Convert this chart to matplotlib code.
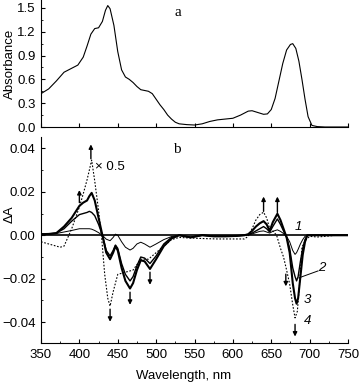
import matplotlib
matplotlib.use("Agg")
import matplotlib.pyplot as plt
from matplotlib.ticker import MultipleLocator, FuncFormatter

plt.rcParams['font.family'] = ['Liberation Sans', 'DejaVu Sans']
plt.rcParams['axes.unicode_minus'] = True

# ---------------- Panel a: absorbance spectrum ----------------
wl_abs = [350, 360, 370, 380, 390, 398, 405, 410, 415, 420, 425, 430, 434, 437, 440,
          445, 450, 455, 460, 465, 470, 475, 480, 485, 490, 495, 500, 505, 510, 515,
          520, 525, 530, 540, 550, 560, 570, 580, 590, 600, 610, 620, 625, 630, 640,
          645, 650, 655, 660, 665, 670, 675, 678, 682, 686, 690, 694, 698, 703, 710,
          720, 750]
absorbance = [0.42, 0.48, 0.58, 0.69, 0.74, 0.78, 0.88, 1.02, 1.17, 1.24, 1.25, 1.33,
              1.47, 1.53, 1.49, 1.28, 0.95, 0.72, 0.63, 0.60, 0.56, 0.51, 0.47, 0.46,
              0.45, 0.42, 0.35, 0.28, 0.22, 0.15, 0.10, 0.06, 0.04, 0.03, 0.025, 0.04,
              0.07, 0.09, 0.10, 0.11, 0.15, 0.20, 0.205, 0.19, 0.16, 0.165, 0.22, 0.36,
              0.58, 0.80, 0.97, 1.04, 1.05, 0.99, 0.83, 0.60, 0.35, 0.13, 0.02, 0.005,
              0.0, 0.0]

# ---------------- Panel b: difference spectra ----------------
wl_sol = [350, 360, 370, 380, 390, 400, 405, 410, 413, 416, 420, 425, 430, 435, 440,
          444, 447, 450, 455, 460, 466, 470, 475, 480, 485, 492, 500, 510, 520, 530,
          545, 560, 575, 590, 605, 615, 620, 625, 630, 635, 640, 644, 648, 652, 658,
          662, 666, 670, 674, 678, 681, 683, 685, 688, 691, 694, 697, 700, 710, 730, 750]
dA_1 = [0.0005, 0.0006, 0.0008, 0.0015, 0.0022, 0.003, 0.003, 0.003, 0.003, 0.0028,
        0.0022, 0.0012, 0.0, -0.0018, -0.0025, -0.001, 0.0005, 0.0, -0.003, -0.0055,
        -0.0068, -0.006, -0.004, -0.0032, -0.004, -0.0055, -0.004, -0.002, -0.0006, 0.0,
        -0.0008, 0.0002, -0.0004, -0.0004, -0.0002, 0.0, 0.0002, 0.0006, 0.0012, 0.0018,
        0.002, 0.0015, 0.001, 0.0018, 0.0025, 0.0018, 0.0008, -0.0005, -0.003, -0.007,
        -0.0088, -0.008, -0.0065, -0.004, -0.002, -0.0005, 0.0, 0.0, 0.0, 0.0, 0.0]
dA_2 = [0.0005, 0.0006, 0.001, 0.003, 0.0065, 0.0095, 0.010, 0.0105, 0.011, 0.0105,
        0.009, 0.005, 0.0, -0.007, -0.0095, -0.007, -0.0045, -0.006, -0.013, -0.018,
        -0.021, -0.019, -0.014, -0.0100, -0.0105, -0.013, -0.0095, -0.004, -0.001, 0.0,
        -0.001, 0.0, -0.0005, -0.0005, -0.0003, 0.0, 0.0003, 0.001, 0.002, 0.003, 0.004,
        0.003, 0.0015, 0.004, 0.0075, 0.005, 0.002, -0.001, -0.006, -0.015, -0.019,
        -0.021, -0.019, -0.012, -0.006, -0.002, 0.0, 0.0, 0.0, 0.0, 0.0]
dA_3 = [0.0005, 0.0006, 0.001, 0.004, 0.008, 0.0135, 0.015, 0.016, 0.018, 0.0195,
        0.016, 0.008, 0.0, -0.008, -0.011, -0.008, -0.005, -0.007, -0.015, -0.021,
        -0.0245, -0.022, -0.016, -0.0115, -0.012, -0.0155, -0.011, -0.005, -0.0015, 0.0,
        -0.001, 0.0, -0.0005, -0.0005, -0.0003, 0.0, 0.0005, 0.002, 0.004, 0.0055,
        0.0065, 0.005, 0.002, 0.006, 0.0099, 0.007, 0.003, -0.001, -0.008, -0.022,
        -0.029, -0.0315, -0.029, -0.019, -0.009, -0.003, 0.0, 0.0, 0.0, 0.0, 0.0]
wl_4 = [350, 360, 370, 375, 380, 385, 390, 395, 400, 405, 410, 413, 416, 420, 425,
        429, 433, 437, 440, 444, 450, 455, 460, 470, 480, 490, 500, 510, 520, 530, 540,
        560, 580, 600, 615, 620, 625, 630, 635, 640, 644, 648, 652, 657, 662, 666, 670,
        674, 678, 681, 684, 687, 690, 694, 700, 710, 720, 735, 750]
dA_4_x05 = [-0.003, -0.004, -0.005, -0.0055, -0.005, -0.001, 0.003, 0.008, 0.013,
            0.019, 0.0255, 0.030, 0.0346, 0.025, 0.0114, -0.001, -0.018, -0.029,
            -0.0326, -0.026, -0.018, -0.0175, -0.017, -0.016, -0.011, -0.011, -0.008,
            -0.005, -0.002, -0.001, -0.0012, -0.0015, -0.0017, -0.0017, -0.0017,
            -0.0005, 0.003, 0.007, 0.0095, 0.0106, 0.008, 0.003, 0.002, 0.0, -0.006,
            -0.010, -0.016, -0.0225, -0.032, -0.038, -0.035, -0.022, -0.0056, -0.0025,
            -0.0005, -0.0008, -0.0005, 0.0, 0.0]

# arrows (wavelength, start, end)
arrow_wl = [400, 415, 440, 466, 492, 640, 658, 669, 681]
arrow_from = [0.0150, 0.0352, -0.0340, -0.0262, -0.0170, 0.0110, 0.0105, -0.0179, -0.0410]
arrow_to = [0.0208, 0.0418, -0.0398, -0.0320, -0.0228, 0.0178, 0.0178, -0.0235, -0.0466]

W, H = 359, 383
fig = plt.figure(figsize=(W / 100, H / 100), dpi=100)

def frac(x0, y0, x1, y1):
    return [x0 / W, 1 - y1 / H, (x1 - x0) / W, (y1 - y0) / H]

axa = fig.add_axes(frac(41, 0, 348, 127))
axb = fig.add_axes(frac(41, 137, 348, 343.3))

fs_tick = 9.5
for ax in (axa, axb):
    ax.spines['top'].set_visible(False)
    ax.spines['right'].set_visible(False)
    ax.spines['left'].set_linewidth(0.8)
    ax.spines['bottom'].set_linewidth(0.8)
    ax.set_xlim(350, 750)
    ax.tick_params(direction='in', which='major', length=3, width=0.8, labelsize=fs_tick, pad=4)
    ax.tick_params(direction='in', which='minor', length=1.5, width=0.6)
    ax.xaxis.set_major_locator(MultipleLocator(50))

def fmt(decimals):
    def f(v, pos):
        s = f"{abs(v):.{decimals}f}"
        return ('\u2212' + s) if v < -1e-12 else s
    return FuncFormatter(f)

# panel a
axa.plot(wl_abs, absorbance, color='k', lw=0.8)
axa.set_ylim(0, 1.6)
axa.yaxis.set_major_locator(MultipleLocator(0.3))
axa.yaxis.set_minor_locator(MultipleLocator(0.15))
axa.yaxis.set_major_formatter(fmt(1))
axa.tick_params(axis='x', labelbottom=False)
axa.set_ylabel('Absorbance', fontsize=9.5)
axa.yaxis.set_label_coords(-0.082, 0.5)
fig.text(178 / W, 1 - 12 / H, 'a', family='Liberation Serif', fontsize=11, ha='center', va='center')

# panel b
axb.axhline(0, color='k', lw=1.2, zorder=1)
axb.plot(wl_4, dA_4_x05, color='k', lw=0.8, ls=(0, (1.5, 1.5)))
axb.plot(wl_sol, dA_1, color='k', lw=0.7)
axb.plot(wl_sol, dA_2, color='k', lw=1.0)
axb.plot(wl_sol, dA_3, color='k', lw=1.5)
axb.set_ylim(-0.0497, 0.0452)
axb.yaxis.set_major_locator(MultipleLocator(0.02))
axb.yaxis.set_minor_locator(MultipleLocator(0.01))
axb.yaxis.set_major_formatter(fmt(2))
axb.xaxis.set_minor_locator(MultipleLocator(25))
axb.set_ylabel('ΔA', fontsize=9.5)
axb.yaxis.set_label_coords(-0.082, 0.626)
axb.set_xlabel('Wavelength, nm', fontsize=9.5)
axb.xaxis.set_label_coords(0.466, -0.13)

for x, y0, y1 in zip(arrow_wl, arrow_from, arrow_to):
    axb.annotate('', xy=(x, y1), xytext=(x, y0),
                 arrowprops=dict(arrowstyle='-|>', mutation_scale=6, lw=1.0,
                                 color='k', shrinkA=0, shrinkB=0))

axb.text(421, 0.0313, '× 0.5', fontsize=9.5, ha='left', va='center')
fig.text(177 / W, 1 - 150 / H, 'b', family='Liberation Serif', fontsize=11, ha='center', va='center')

curve_labels = ['1', '2', '3', '4']
label_wl = [685, 716, 697, 697]
label_dA = [0.0036, -0.0151, -0.0300, -0.0395]
for t, x, y in zip(curve_labels, label_wl, label_dA):
    axb.text(x, y, t, fontsize=9.5, style='italic', ha='center', va='center')
axb.plot([711, 686], [-0.0164, -0.0196], color='k', lw=0.7)

fig.savefig('out.png', dpi=100)
